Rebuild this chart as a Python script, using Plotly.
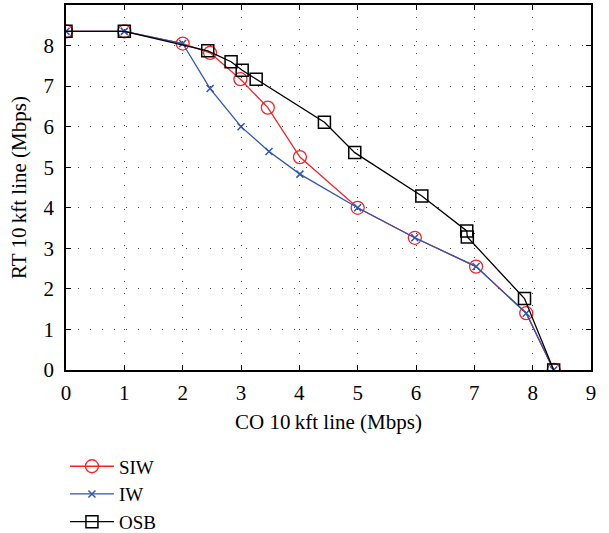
import plotly.graph_objects as go

siw_x = [0, 1, 2, 2.47, 2.99, 3.46, 4.01, 5.0, 5.98, 7.03, 7.89, 8.36]
siw_y = [8.35, 8.35, 8.05, 7.82, 7.17, 6.47, 5.25, 4.0, 3.26, 2.55, 1.4, 0]

iw_x = [0, 1, 2, 2.47, 3.0, 3.48, 4.01, 5.0, 5.98, 7.03, 7.89, 8.36]
iw_y = [8.35, 8.35, 8.05, 6.94, 6.0, 5.39, 4.83, 4.0, 3.26, 2.55, 1.4, 0]

osb_x = [0, 1, 2.43, 2.83, 3.02, 3.26, 4.43, 4.95, 6.1, 6.87, 6.88, 7.86, 8.36]
osb_y = [8.35, 8.35, 7.87, 7.6, 7.39, 7.17, 6.11, 5.36, 4.29, 3.43, 3.28, 1.76, 0]

x_ticks = list(range(0, 10))
y_ticks = list(range(0, 10))

FONT = "Liberation Serif"
FS = 21
LFS = 19
RED = "#f0262a"
BLUE = "#2f56b0"

fig = go.Figure()
fig.add_trace(go.Scatter(x=siw_x, y=siw_y, name="SIW", mode="lines+markers",
                         line=dict(color=RED, width=1.3),
                         marker=dict(symbol="circle-open", size=13, color=RED, line=dict(width=1.3))))
fig.add_trace(go.Scatter(x=iw_x, y=iw_y, name="IW", mode="lines+markers",
                         line=dict(color=BLUE, width=1.3),
                         marker=dict(symbol="x-thin-open", size=7, color=BLUE, line=dict(width=1.5, color=BLUE))))
fig.add_trace(go.Scatter(x=osb_x, y=osb_y, name="OSB", mode="lines+markers",
                         line=dict(color="black", width=1.3),
                         marker=dict(symbol="square-open", size=12, color="black", line=dict(width=1.5))))

axis_common = dict(
    showline=True, linecolor="black", linewidth=1.5, mirror="ticks",
    ticks="inside", ticklen=5, tickcolor="black", tickwidth=1.3,
    showgrid=True, gridcolor="#444", gridwidth=1, griddash="1px,11px",
    zeroline=False, automargin=False,
    tickfont=dict(family=FONT, size=FS, color="black"),
)

fig.update_xaxes(range=[0, 9], tickvals=x_ticks, ticklabelstandoff=3, **axis_common,
                 title=dict(text="CO 10\u2009kft line (Mbps)", font=dict(family=FONT, size=FS, color="black"), standoff=10))
fig.update_yaxes(range=[0, 9], tickvals=y_ticks, ticklabelstandoff=6, **axis_common,
                 title=dict(text="RT 10\u2009kft line (Mbps)", font=dict(family=FONT, size=FS, color="black"), standoff=11))

fig.update_layout(
    width=609, height=533,
    margin=dict(l=66, r=18, t=5, b=163, autoexpand=False),
    plot_bgcolor="white", paper_bgcolor="white",
    font=dict(family=FONT, size=FS, color="black"),
    legend=dict(x=-0.002, y=-0.212, itemwidth=44,
                xanchor="left", yanchor="top", tracegroupgap=0,
                font=dict(family=FONT, size=LFS, color="black"),
                bgcolor="rgba(0,0,0,0)"),
    showlegend=True,
)

fig.write_html("out.html")
